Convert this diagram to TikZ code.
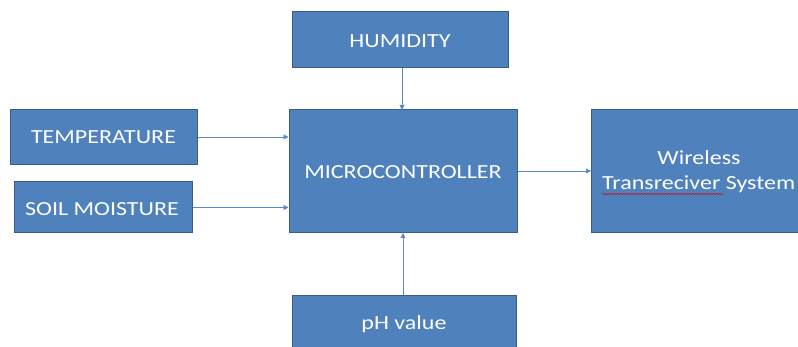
\documentclass[tikz,border=0pt]{standalone}
\usepackage{fontspec}
\usepackage{graphicx}
\setmainfont{Carlito}
\usetikzlibrary{arrows.meta,decorations.pathmorphing}
\definecolor{boxfill}{HTML}{4F81BD}
\definecolor{boxline}{HTML}{385D8A}
\definecolor{arrowcol}{HTML}{5B8BC7}
\newcommand{\wtxt}[1]{\scalebox{1.2}[1]{#1}}
\tikzset{
  blk/.style={draw=boxline, line width=1pt, fill=boxfill, inner sep=0pt},
  lbl/.style={text=white, font=\fontsize{20}{24}\selectfont, inner sep=0pt},
  conn/.style={draw=arrowcol, line width=0.8pt, -{Triangle[length=5pt,width=5pt]}}
}
\begin{document}
\begin{tikzpicture}[x=1pt,y=-1pt]
\useasboundingbox (0,0) rectangle (798,347);
\fill[white] (0,0) rectangle (798,347);
\begin{scope}
\clip (0,0) rectangle (798,347);
\node[blk, minimum width=216pt, minimum height=56pt] (hum) at (400,40) {};
\node[blk, minimum width=187pt, minimum height=55pt] (temp) at (103.5,137) {};
\node[blk, minimum width=178pt, minimum height=51pt] (soil) at (103,207.5) {};
\node[blk, minimum width=228pt, minimum height=123pt] (mcu) at (403,171.5) {};
\node[blk, minimum width=210pt, minimum height=123pt, anchor=west] (wts) at (591,171.5) {};
\node[blk, minimum width=224pt, minimum height=60pt, anchor=north] (ph) at (404,295) {};
\end{scope}
\node[lbl] (humt) at (400,41) {\wtxt{HUMIDITY}};
\node[lbl] (tempt) at (103.5,137) {\wtxt{TEMPERATURE}};
\node[lbl] (soilt) at (102,209) {\wtxt{SOIL MOISTURE}};
\node[lbl] (mcut) at (403,172) {\wtxt{MICROCONTROLLER}};
\node[lbl] (wl1) at (699,158) {\wtxt{Wireless}};
\node[lbl, anchor=west] (wl2) at (602,184) {\wtxt{Transreciver System}};
\node[lbl] (phl) at (404,324) {\wtxt{pH value}};
\draw[red!85!black, line width=0.5pt, decorate, decoration={snake, amplitude=0.6pt, segment length=3pt}]
  (602,194) -- (723,194);
\draw[conn] (hum.south -| 402,0) -- (402,110);
\draw[conn] (temp.east) -- (temp.east -| mcu.west);
\draw[conn] (soil.east) -- (soil.east -| mcu.west);
\draw[conn] (mcu.east |- 0,171) -- (wts.west |- 0,171);
\draw[conn] (ph.north -| 403,0) -- (403,233);
\end{tikzpicture}
\end{document}
